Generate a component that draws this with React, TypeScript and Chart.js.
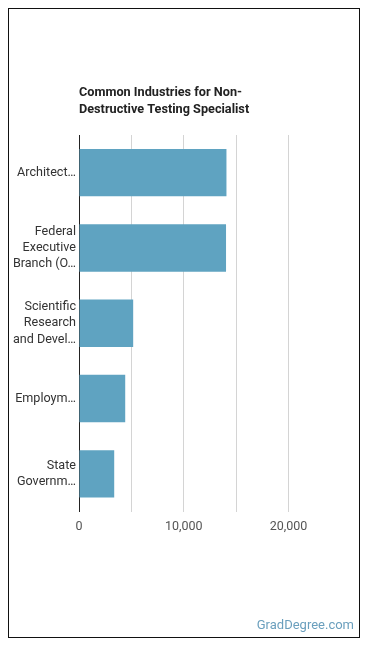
import React, { useEffect, useRef } from "react";
import { Chart, registerables } from "chart.js";

Chart.register(...registerables);

const industries: string[][] = [
  ["Architect…"],
  ["Federal", "Executive", "Branch (O…"],
  ["Scientific", "Research", "and Devel…"],
  ["Employm…"],
  ["State", "Governm…"],
];
const employees: number[] = [14070, 14030, 5170, 4410, 3360];
const titleLines: string[] = ["Common Industries for Non-", "Destructive Testing Specialist"];
const footerText = "GradDegree.com";

const FONT = "Roboto, 'Noto Sans', sans-serif";

const overlayText = {
  id: "overlayText",
  afterDraw(chart: Chart) {
    const { ctx, chartArea } = chart;
    ctx.save();
    ctx.fillStyle = "#222";
    ctx.font = `bold 12.7px ${FONT}`;
    ctx.textAlign = "left";
    ctx.textBaseline = "alphabetic";
    titleLines.forEach((line, i) => {
      ctx.fillText(line, chartArea.left, 87 + i * 16.5);
    });
    ctx.fillStyle = "#6a9fbd";
    ctx.font = `13px ${FONT}`;
    ctx.textAlign = "right";
    ctx.textBaseline = "middle";
    ctx.fillText(footerText, 345, 617);
    ctx.restore();
  },
};

export default function App() {
  const canvasRef = useRef<HTMLCanvasElement | null>(null);

  useEffect(() => {
    if (!canvasRef.current) return;
    const chart = new Chart(canvasRef.current, {
      type: "bar",
      data: {
        labels: industries,
        datasets: [
          {
            data: employees,
            backgroundColor: "#5fa3c1",
            borderWidth: 0,
            barPercentage: 0.63,
            categoryPercentage: 1,
          },
        ],
      },
      options: {
        indexAxis: "y",
        animation: false,
        responsive: false,
        maintainAspectRatio: false,
        layout: { padding: { left: 0, right: 18, top: 126, bottom: 95.5 } },
        plugins: {
          legend: { display: false },
          title: { display: false },
          tooltip: { enabled: false },
        },
        scales: {
          x: {
            min: 0,
            max: 25000,
            afterFit: (s: any) => {
              s.height = 30;
            },
            border: { display: false },
            grid: {
              drawTicks: false,
              color: (c: any) =>
                c.tick && (c.tick.value === 0 || c.tick.value === 25000)
                  ? "rgba(0,0,0,0)"
                  : "#d4d4d4",
              lineWidth: 1,
            },
            ticks: {
              stepSize: 5000,
              autoSkip: false,
              maxRotation: 0,
              padding: 8,
              color: "#555",
              font: { family: FONT, size: 12.5 },
              callback: (v: any) =>
                Number(v) % 10000 === 0 ? Number(v).toLocaleString("en-US") : "",
            },
          },
          y: {
            afterFit: (s: any) => {
              s.width = 70;
            },
            border: { display: true, color: "#222", width: 1 },
            grid: { display: false, drawTicks: false },
            ticks: {
              padding: 3,
              color: "#333",
              font: { family: FONT, size: 12.6, lineHeight: 1.3 },
            },
          },
        },
      },
      plugins: [overlayText],
    });
    return () => chart.destroy();
  }, []);

  return (
    <div
      style={{
        width: 350,
        height: 628,
        border: "1px solid #111",
        background: "#fff",
      }}
    >
      <canvas ref={canvasRef} width={350} height={628} style={{ display: "block" }} />
    </div>
  );
}
